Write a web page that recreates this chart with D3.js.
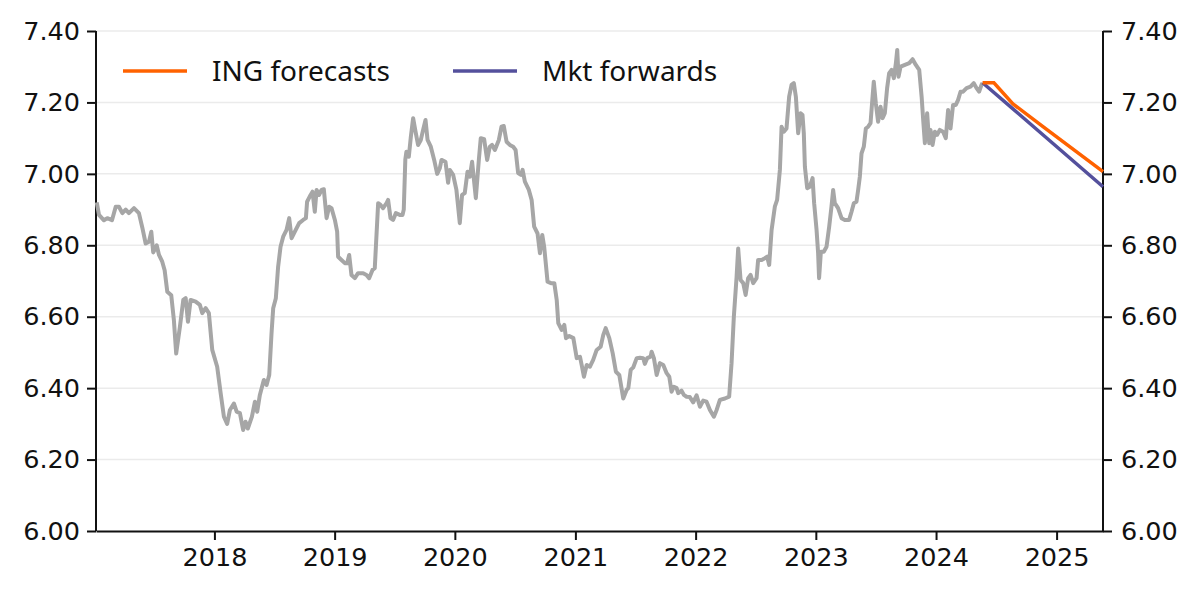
<!DOCTYPE html>
<html>
<head>
<meta charset="utf-8">
<script src="https://cdn.jsdelivr.net/npm/d3@7"></script>
<style>
  body { margin: 0; background: #fff; }
  text { font-family: "Noto Sans", sans-serif; fill: #111; }
  .axis text { font-family: "DejaVu Sans", sans-serif; }
  .axis path, .axis line { stroke: #111; stroke-width: 2; }
  .grid line { stroke: #ebebeb; stroke-width: 1.5; }
</style>
</head>
<body>
<div id="chart"></div>
<script>
// USD/CNY spot (weekly-ish readings), dates as decimal years
var spotDates = [
  2017.021, 2017.040, 2017.081, 2017.109, 2017.148, 2017.179, 2017.206, 2017.234, 2017.262, 2017.289,
  2017.331, 2017.372, 2017.400, 2017.428, 2017.456, 2017.475, 2017.491, 2017.520, 2017.539, 2017.566,
  2017.586, 2017.608, 2017.641, 2017.663, 2017.682, 2017.713, 2017.741, 2017.761, 2017.780, 2017.802,
  2017.844, 2017.879, 2017.899, 2017.927, 2017.954, 2017.982,
  2018.023, 2018.052, 2018.079, 2018.106, 2018.129, 2018.162, 2018.185, 2018.212, 2018.239, 2018.259,
  2018.278, 2018.312, 2018.337, 2018.356, 2018.378, 2018.411, 2018.434, 2018.456, 2018.475, 2018.489,
  2018.511, 2018.530, 2018.550, 2018.572, 2018.600, 2018.622, 2018.642, 2018.669, 2018.705, 2018.738,
  2018.761, 2018.771, 2018.800, 2018.816, 2018.835, 2018.850, 2018.871, 2018.891, 2018.910, 2018.933,
  2018.954, 2018.974,
  2019.002, 2019.021, 2019.029, 2019.057, 2019.085, 2019.104, 2019.121, 2019.140, 2019.168, 2019.195,
  2019.237, 2019.265, 2019.287, 2019.315, 2019.334, 2019.362, 2019.382, 2019.403, 2019.432, 2019.445,
  2019.465, 2019.486, 2019.509, 2019.542, 2019.565, 2019.575, 2019.588, 2019.597, 2019.617, 2019.634,
  2019.653, 2019.673, 2019.694, 2019.717, 2019.736, 2019.756, 2019.773, 2019.800, 2019.828, 2019.853,
  2019.875, 2019.889, 2019.922, 2019.944, 2019.958, 2019.986,
  2020.013, 2020.041, 2020.060, 2020.082, 2020.105, 2020.124, 2020.143, 2020.174, 2020.199, 2020.215,
  2020.243, 2020.268, 2020.290, 2020.309, 2020.332, 2020.365, 2020.387, 2020.406, 2020.429, 2020.456,
  2020.484, 2020.504, 2020.525, 2020.548, 2020.562, 2020.581, 2020.614, 2020.637, 2020.658, 2020.686,
  2020.706, 2020.725, 2020.741, 2020.769, 2020.797, 2020.825, 2020.845, 2020.858, 2020.886, 2020.908,
  2020.922, 2020.949, 2020.983,
  2021.011, 2021.038, 2021.052, 2021.071, 2021.094, 2021.121, 2021.148, 2021.177, 2021.210, 2021.232,
  2021.252, 2021.282, 2021.310, 2021.337, 2021.365, 2021.398, 2021.426, 2021.440, 2021.460, 2021.481,
  2021.510, 2021.537, 2021.564, 2021.578, 2021.597, 2021.626, 2021.634, 2021.653, 2021.676, 2021.703,
  2021.731, 2021.759, 2021.781, 2021.800, 2021.819, 2021.842, 2021.855, 2021.883, 2021.902, 2021.925,
  2021.952, 2021.980,
  2022.008, 2022.036, 2022.063, 2022.091, 2022.119, 2022.152, 2022.175, 2022.202, 2022.244, 2022.279,
  2022.299, 2022.318, 2022.341, 2022.354, 2022.374, 2022.396, 2022.416, 2022.437, 2022.457, 2022.479,
  2022.507, 2022.520, 2022.549, 2022.576, 2022.595, 2022.612, 2022.632, 2022.659, 2022.678, 2022.701,
  2022.715, 2022.734, 2022.756, 2022.778, 2022.798, 2022.817, 2022.834, 2022.853, 2022.873, 2022.889,
  2022.900, 2022.909, 2022.928, 2022.950, 2022.973, 2022.986,
  2023.006, 2023.019, 2023.027, 2023.042, 2023.066, 2023.089, 2023.111, 2023.130, 2023.144, 2023.158,
  2023.185, 2023.214, 2023.241, 2023.277, 2023.297, 2023.316, 2023.338, 2023.352, 2023.366, 2023.380,
  2023.399, 2023.416, 2023.435, 2023.455, 2023.471, 2023.482, 2023.499, 2023.518, 2023.538, 2023.555,
  2023.574, 2023.593, 2023.610, 2023.630, 2023.649, 2023.666, 2023.677, 2023.688, 2023.705, 2023.741,
  2023.777, 2023.805, 2023.832, 2023.860, 2023.880, 2023.893, 2023.907, 2023.926, 2023.943, 2023.954,
  2023.971, 2023.990,
  2024.008, 2024.031, 2024.058, 2024.081, 2024.100, 2024.120, 2024.141, 2024.164, 2024.183, 2024.203,
  2024.224, 2024.253, 2024.286, 2024.313, 2024.336, 2024.357, 2024.377, 2024.386
];
var spotValues = [
  6.920, 6.885, 6.870, 6.876, 6.870, 6.908, 6.908, 6.890, 6.900, 6.890,
  6.904, 6.890, 6.850, 6.805, 6.810, 6.838, 6.780, 6.800, 6.773, 6.754,
  6.730, 6.670, 6.660, 6.590, 6.497, 6.572, 6.647, 6.652, 6.586, 6.647,
  6.642, 6.633, 6.610, 6.624, 6.610, 6.507,
  6.460, 6.386, 6.320, 6.300, 6.339, 6.357, 6.334, 6.330, 6.283, 6.306,
  6.287, 6.320, 6.362, 6.334, 6.381, 6.423, 6.409, 6.437, 6.553, 6.624,
  6.652, 6.740, 6.796, 6.824, 6.843, 6.876, 6.820, 6.838, 6.862, 6.871,
  6.876, 6.922, 6.941, 6.950, 6.894, 6.955, 6.941, 6.955, 6.957, 6.876,
  6.908, 6.904,
  6.871, 6.838, 6.768, 6.759, 6.750, 6.750, 6.773, 6.717, 6.708, 6.722,
  6.722, 6.717, 6.708, 6.731, 6.736, 6.918, 6.913, 6.904, 6.918, 6.927,
  6.876, 6.871, 6.890, 6.885, 6.885, 6.900, 7.040, 7.062, 7.048, 7.104,
  7.156, 7.118, 7.081, 7.095, 7.123, 7.151, 7.095, 7.076, 7.039, 7.000,
  7.016, 7.039, 7.034, 6.975, 7.011, 6.997,
  6.955, 6.862, 6.941, 6.946, 7.006, 6.992, 7.034, 6.932, 7.039, 7.100,
  7.097, 7.039, 7.076, 7.081, 7.067, 7.095, 7.132, 7.134, 7.090, 7.081,
  7.076, 7.067, 7.002, 6.997, 7.011, 6.978, 6.955, 6.927, 6.852, 6.833,
  6.778, 6.829, 6.796, 6.698, 6.694, 6.694, 6.647, 6.582, 6.563, 6.577,
  6.540, 6.546, 6.540,
  6.484, 6.488, 6.465, 6.432, 6.465, 6.460, 6.479, 6.507, 6.516, 6.549,
  6.568, 6.540, 6.498, 6.446, 6.437, 6.371, 6.395, 6.400, 6.451, 6.458,
  6.484, 6.485, 6.484, 6.468, 6.484, 6.488, 6.502, 6.484, 6.437, 6.470,
  6.465, 6.442, 6.432, 6.390, 6.404, 6.400, 6.386, 6.393, 6.381, 6.376,
  6.375, 6.360,
  6.380, 6.348, 6.365, 6.362, 6.339, 6.320, 6.339, 6.367, 6.371, 6.376,
  6.470, 6.600, 6.712, 6.791, 6.703, 6.694, 6.661, 6.708, 6.717, 6.694,
  6.708, 6.759, 6.759, 6.764, 6.768, 6.745, 6.843, 6.908, 6.927, 7.011,
  7.132, 7.118, 7.127, 7.216, 7.249, 7.254, 7.216, 7.114, 7.170, 7.165,
  7.114, 7.020, 6.960, 6.964, 6.988, 6.918,
  6.843, 6.778, 6.708, 6.782, 6.782, 6.796, 6.852, 6.908, 6.955, 6.918,
  6.904, 6.876, 6.871, 6.871, 6.894, 6.918, 6.922, 6.955, 6.992, 7.057,
  7.076, 7.127, 7.132, 7.142, 7.212, 7.258, 7.198, 7.146, 7.188, 7.156,
  7.170, 7.240, 7.282, 7.291, 7.268, 7.310, 7.347, 7.272, 7.300, 7.305,
  7.310, 7.321, 7.305, 7.291, 7.216, 7.151, 7.086, 7.170, 7.086, 7.123,
  7.081, 7.118,
  7.109, 7.123, 7.118, 7.100, 7.179, 7.127, 7.193, 7.193, 7.207, 7.230,
  7.230, 7.240, 7.244, 7.254, 7.240, 7.230, 7.249, 7.255
];

// ING forecasts
var ingDates  = [2024.386, 2024.480, 2024.638, 2024.887, 2025.386];
var ingValues = [7.255, 7.255, 7.196, 7.132, 7.006];

// Market forwards
var fwdDates  = [2024.386, 2024.638, 2025.386];
var fwdValues = [7.255, 7.182, 6.964];

var yTicks = [6.00, 6.20, 6.40, 6.60, 6.80, 7.00, 7.20, 7.40];
var xTickYears = [2018, 2019, 2020, 2021, 2022, 2023, 2024, 2025];
var domainDates = [2017.015, 2025.386];

var legendItems = ["ING forecasts", "Mkt forwards"];
var colors = {spot: "#a6a6a6", ing: "#ff6200", fwd: "#54509c"};

var W = 1200, H = 599,
    margin = {top: 31, right: 97, bottom: 68, left: 96},
    width = W - margin.left - margin.right,
    height = H - margin.top - margin.bottom;

// decimal year -> Date
function toDate(t) {
    var yr = Math.floor(t),
        s = new Date(yr, 0, 1),
        e = new Date(yr + 1, 0, 1);
    return new Date(+s + (t - yr) * (e - s));
}

var x = d3.scaleTime()
    .domain(domainDates.map(toDate))
    .range([0, width]);

var y = d3.scaleLinear()
    .domain([6, 7.4])
    .range([height, 0]);

var svg = d3.select("#chart").append("svg")
    .attr("width", W)
    .attr("height", H)
    .append("g")
    .attr("transform", "translate(" + margin.left + "," + margin.top + ")");

// gridlines
svg.append("g")
    .attr("class", "grid")
    .selectAll("line")
    .data(yTicks.filter(function(d) { return d > 6; }))
    .enter().append("line")
    .attr("x1", 0)
    .attr("x2", width)
    .attr("y1", function(d) { return y(d); })
    .attr("y2", function(d) { return y(d); });

var yAxisL = d3.axisLeft(y)
    .tickValues(yTicks)
    .tickFormat(d3.format(".2f"))
    .tickSize(9)
    .tickPadding(7);

var yAxisR = d3.axisRight(y)
    .tickValues(yTicks)
    .tickFormat(d3.format(".2f"))
    .tickSize(9)
    .tickPadding(9);

var xAxis = d3.axisBottom(x)
    .tickValues(xTickYears.map(function(d) { return new Date(d, 0, 1); }))
    .tickFormat(d3.timeFormat("%Y"))
    .tickSize(9)
    .tickSizeOuter(0)
    .tickPadding(8);

svg.append("g")
    .attr("class", "axis")
    .call(yAxisL)
    .call(function(g) { g.select(".domain").attr("d", "M0,0V" + height); });

svg.append("g")
    .attr("class", "axis")
    .attr("transform", "translate(" + width + ",0)")
    .call(yAxisR)
    .call(function(g) { g.select(".domain").attr("d", "M0,0V" + height); });

svg.append("g")
    .attr("class", "axis x")
    .attr("transform", "translate(0," + height + ")")
    .call(xAxis);

svg.selectAll(".axis text")
    .style("font-size", "25.5px")
    .attr("font-family", null);

var line = d3.line()
    .x(function(d) { return x(toDate(d[0])); })
    .y(function(d) { return y(d[1]); });

function pairs(ts, vs) {
    return ts.map(function(t, i) { return [t, vs[i]]; });
}

svg.append("path")
    .datum(pairs(spotDates, spotValues))
    .attr("fill", "none")
    .attr("stroke", colors.spot)
    .attr("stroke-width", 4)
    .attr("stroke-linejoin", "round")
    .attr("d", line);

svg.append("path")
    .datum(pairs(fwdDates, fwdValues))
    .attr("fill", "none")
    .attr("stroke", colors.fwd)
    .attr("stroke-width", 3.5)
    .attr("d", line);

svg.append("path")
    .datum(pairs(ingDates, ingValues))
    .attr("fill", "none")
    .attr("stroke", colors.ing)
    .attr("stroke-width", 3.5)
    .attr("d", line);

// legend
var legend = svg.append("g")
    .attr("transform", "translate(27,40)");

var li = legend.selectAll("g")
    .data(legendItems)
    .enter().append("g")
    .attr("transform", function(d, i) { return "translate(" + (i * 330) + ",0)"; });

li.append("line")
    .attr("x1", 0)
    .attr("x2", 64)
    .attr("stroke", function(d, i) { return i === 0 ? colors.ing : colors.fwd; })
    .attr("stroke-width", 3.5);

li.append("text")
    .attr("x", 89)
    .attr("dy", "0.35em")
    .style("font-size", "28px")
    .text(function(d) { return d; });
</script>
</body>
</html>
